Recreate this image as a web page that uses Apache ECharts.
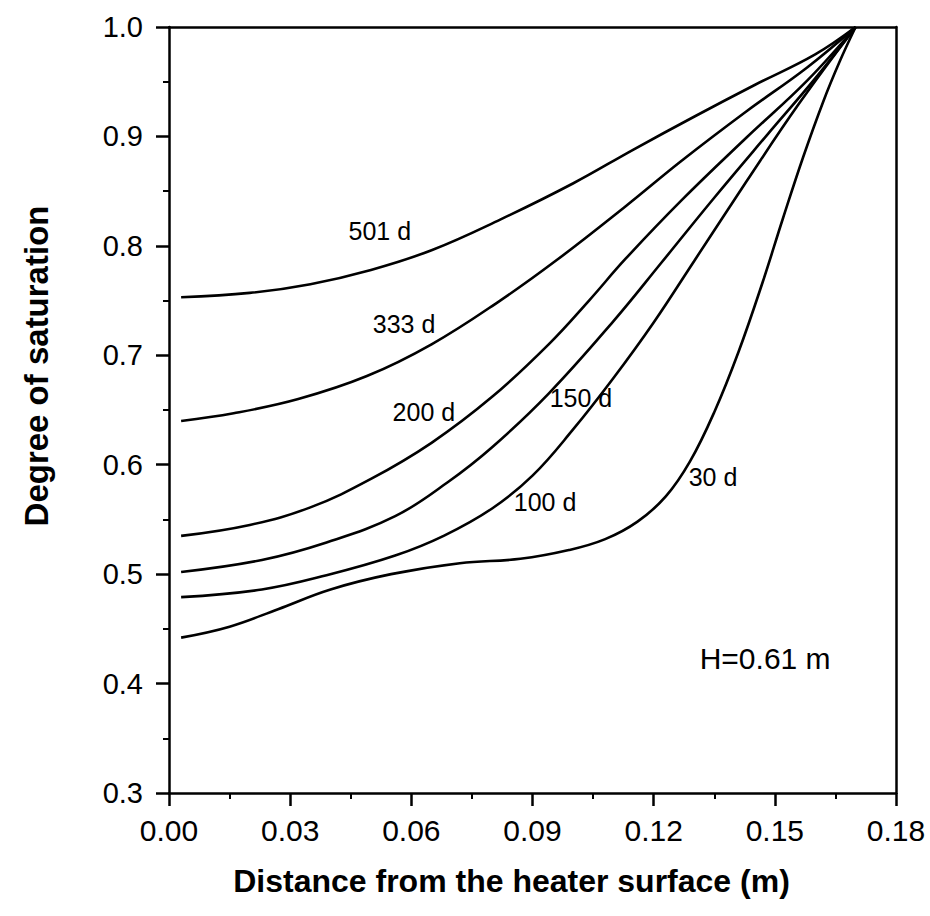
<!DOCTYPE html>
<html>
<head>
<meta charset="utf-8">
<script src="https://cdn.jsdelivr.net/npm/echarts@6/dist/echarts.min.js"></script>
<style>
html,body{margin:0;padding:0;background:#fff;}
#chart{width:930px;height:916px;}
</style>
</head>
<body>
<div id="chart"></div>
<script>
// x: distance from heater surface (m), y: degree of saturation
const d501 = [[0.003,0.753],[0.020,0.757],[0.035,0.765],[0.050,0.778],[0.065,0.796],[0.082,0.824],[0.100,0.857],[0.115,0.888],[0.130,0.918],[0.145,0.947],[0.160,0.975],[0.170,1.0]];
const d333 = [[0.003,0.640],[0.016,0.647],[0.032,0.660],[0.049,0.681],[0.065,0.710],[0.082,0.750],[0.096,0.787],[0.113,0.836],[0.127,0.878],[0.143,0.923],[0.158,0.963],[0.170,1.0]];
const d200 = [[0.003,0.535],[0.020,0.545],[0.035,0.561],[0.050,0.587],[0.065,0.620],[0.080,0.662],[0.094,0.710],[0.104,0.750],[0.113,0.788],[0.127,0.842],[0.143,0.899],[0.158,0.951],[0.170,1.0]];
const d150 = [[0.003,0.502],[0.023,0.513],[0.039,0.529],[0.056,0.553],[0.069,0.584],[0.080,0.616],[0.094,0.665],[0.110,0.731],[0.122,0.785],[0.135,0.844],[0.148,0.901],[0.160,0.953],[0.170,1.0]];
const d100 = [[0.003,0.479],[0.023,0.486],[0.039,0.499],[0.056,0.517],[0.068,0.535],[0.080,0.560],[0.090,0.590],[0.100,0.632],[0.110,0.679],[0.120,0.730],[0.130,0.786],[0.143,0.859],[0.156,0.930],[0.170,1.0]];
const d30 = [[0.003,0.442],[0.015,0.452],[0.027,0.468],[0.040,0.486],[0.055,0.500],[0.072,0.510],[0.087,0.514],[0.099,0.522],[0.108,0.532],[0.116,0.548],[0.123,0.571],[0.129,0.603],[0.135,0.648],[0.141,0.703],[0.147,0.767],[0.152,0.825],[0.157,0.881],[0.162,0.932],[0.166,0.968],[0.170,1.0]];

const seriesNames = ['501 d','333 d','200 d','150 d','100 d','30 d'];
const seriesData = [d501, d333, d200, d150, d100, d30];

// curve label positions (data coords)
const labelTexts = ['501 d','333 d','200 d','150 d','100 d','30 d'];
const labelX = [0.0522,0.0582,0.0631,0.1020,0.0931,0.1347];
const labelY = [0.8137,0.7288,0.6485,0.6613,0.5655,0.5892];
const noteText = 'H=0.61 m';
const noteX = 0.1476, noteY = 0.4232;

const xMin = 0, xMax = 0.18, xStep = 0.03;
const yMin = 0.3, yMax = 1.0, yStep = 0.1;

const FONT = 'Arial, "Liberation Sans", Helvetica, sans-serif';

const chart = echarts.init(document.getElementById('chart'), null, {renderer: 'svg'});

const lineSeries = seriesData.map((d, i) => ({
  name: seriesNames[i],
  type: 'line',
  data: d,
  smooth: 0.4,
  symbol: 'none',
  lineStyle: {color: '#000', width: 2.6},
  silent: true,
  z: 3
}));

const textLabel = (size) => ({
  show: true, position: 'inside', formatter: p => p.name,
  color: '#000', opacity: 1, textBorderWidth: 0, fontFamily: FONT, fontSize: size
});

const labelSeries = {
  type: 'scatter',
  symbolSize: 0,
  silent: true,
  itemStyle: {color: '#000'},
  data: labelTexts.map((t, i) => ({value: [labelX[i], labelY[i]], name: t})),
  label: textLabel(25),
  z: 5
};
const noteSeries = {
  type: 'scatter',
  symbolSize: 0,
  silent: true,
  itemStyle: {color: '#000'},
  data: [{value: [noteX, noteY], name: noteText}],
  label: textLabel(30),
  z: 5
};

chart.setOption({
  backgroundColor: '#fff',
  animation: false,
  grid: {left: 169, right: 34, top: 27, bottom: 123, containLabel: false},
  xAxis: [{
    type: 'value', min: xMin, max: xMax, interval: xStep,
    name: 'Distance from the heater surface (m)',
    nameLocation: 'middle', nameGap: 72,
    nameTextStyle: {fontFamily: FONT, fontSize: 32, fontWeight: 'bold', color: '#000', padding: [0, 42, 0, 0]},
    axisLine: {show: true, onZero: false, lineStyle: {color: '#000', width: 2.5}},
    axisTick: {show: true, inside: false, length: 13, lineStyle: {color: '#000', width: 2.5}},
    minorTick: {show: true, splitNumber: 2, length: 6, lineStyle: {color: '#000', width: 2}},
    axisLabel: {fontFamily: FONT, fontSize: 30, color: '#000', margin: 22, formatter: v => v.toFixed(2)},
    splitLine: {show: false}
  }, {
    type: 'value', min: xMin, max: xMax, position: 'top',
    axisLine: {show: true, onZero: false, lineStyle: {color: '#000', width: 2.5}},
    axisTick: {show: false}, axisLabel: {show: false}, splitLine: {show: false}
  }],
  yAxis: [{
    type: 'value', min: yMin, max: yMax, interval: yStep,
    name: 'Degree of saturation',
    nameLocation: 'middle', nameGap: 116,
    nameTextStyle: {fontFamily: FONT, fontSize: 33, fontWeight: 'bold', color: '#000', padding: [0, 0, 0, 88]},
    axisLine: {show: true, onZero: false, lineStyle: {color: '#000', width: 2.5}},
    axisTick: {show: true, inside: false, length: 13, lineStyle: {color: '#000', width: 2.5}},
    minorTick: {show: true, splitNumber: 2, length: 6, lineStyle: {color: '#000', width: 2}},
    axisLabel: {fontFamily: FONT, fontSize: 29, color: '#000', margin: 26, formatter: v => v.toFixed(1)},
    splitLine: {show: false}
  }, {
    type: 'value', min: yMin, max: yMax, position: 'right',
    axisLine: {show: true, onZero: false, lineStyle: {color: '#000', width: 2.5}},
    axisTick: {show: false}, axisLabel: {show: false}, splitLine: {show: false}
  }],
  series: lineSeries.concat([labelSeries, noteSeries])
});
</script>
</body>
</html>
